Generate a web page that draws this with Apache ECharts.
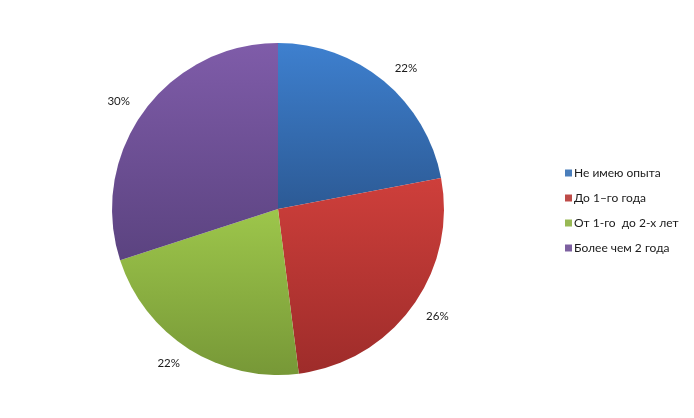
<!DOCTYPE html>
<html><head><meta charset="utf-8">
<script src="https://cdn.jsdelivr.net/npm/echarts@6/dist/echarts.min.js"></script>
<style>html,body{margin:0;padding:0;background:#fff}#c{width:694px;height:418px}</style>
</head><body><div id="c"></div>
<script>
const categories = ['Не имею опыта', 'До 1–го года', 'От 1-го  до 2-х лет', 'Более чем 2 года'];
const values = [22, 26, 22, 30];
const topColors = ['#3E80CF', '#CE3F3B', '#9DC64B', '#7F5CA9'];
const bottomColors = ['#2C5A95', '#9E2C2A', '#779837', '#5B4380'];
const legendColors = ['#4A7EBB', '#BE4B48', '#98B954', '#7D60A0'];

const grad = (a, b) => new echarts.graphic.LinearGradient(0, 0, 0, 1, [{offset: 0, color: a}, {offset: 1, color: b}]);
const chart = echarts.init(document.getElementById('c'), null, {renderer: 'canvas'});
chart.setOption({
  animation: false,
  backgroundColor: '#fff',
  legend: {
    orient: 'vertical', left: 560, top: 162, itemWidth: 7, itemHeight: 7, itemGap: 13,
    icon: 'rect',
    textStyle: {fontFamily: 'Lato', fontSize: 12, color: '#1a1a1a', padding: [0, 0, 0, -3]},
    data: categories.map((c, i) => ({name: c, itemStyle: {color: legendColors[i]}}))
  },
  series: [{
    type: 'pie', center: [278, 209], radius: 166, startAngle: 90, clockwise: true,
    avoidLabelOverlap: false,
    label: {show: true, position: 'outside', formatter: '{c}%', fontFamily: 'Lato', fontSize: 11.5, color: '#1a1a1a', distanceToLabelLine: 0},
    labelLine: {show: false, length: 17, length2: 0},
    emphasis: {disabled: true},
    data: categories.map((c, i) => ({name: c, value: values[i], itemStyle: {color: grad(topColors[i], bottomColors[i])}}))
  }]
});
</script></body></html>
